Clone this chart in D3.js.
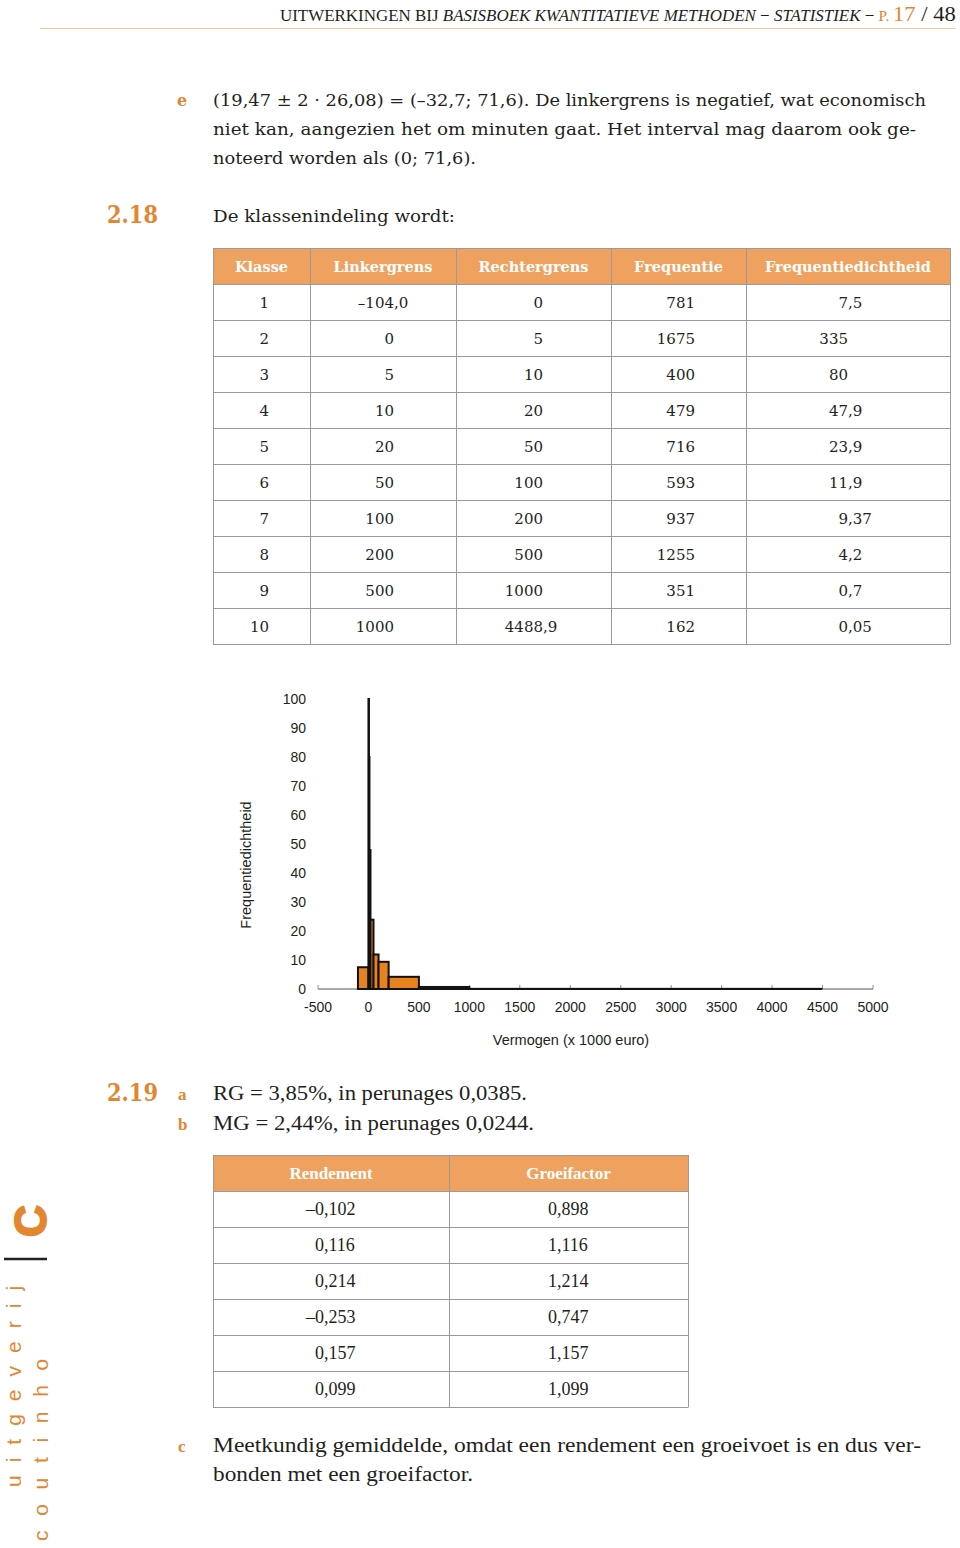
<!DOCTYPE html>
<html><head><meta charset="utf-8">
<script src="https://cdn.jsdelivr.net/npm/d3@7/dist/d3.min.js"></script>
<style>
html,body{margin:0;padding:0;background:#fff;}
svg{display:block;}
</style></head>
<body>
<script>
// ---------- DATA ----------
const klasse = ["1","2","3","4","5","6","7","8","9","10"];
const linkergrens = ["–104,0","0","5","10","20","50","100","200","500","1000"];
const rechtergrens = ["0","5","10","20","50","100","200","500","1000","4488,9"];
const frequentie = ["781","1675","400","479","716","593","937","1255","351","162"];
const dichtheidLabels = ["7,5","335","80","47,9","23,9","11,9","9,37","4,2","0,7","0,05"];
const tableHeaders = ["Klasse","Linkergrens","Rechtergrens","Frequentie","Frequentiedichtheid"];

const lowerBounds = [-104, 0, 5, 10, 20, 50, 100, 200, 500, 1000];
const upperBounds = [0, 5, 10, 20, 50, 100, 200, 500, 1000, 4488.9];
const density = [7.5, 335, 80, 47.9, 23.9, 11.9, 9.37, 4.2, 0.7, 0.05];
const xTicks = [-500,0,500,1000,1500,2000,2500,3000,3500,4000,4500,5000];
const yTicks = [0,10,20,30,40,50,60,70,80,90,100];

const rendement = ["–0,102","0,116","0,214","–0,253","0,157","0,099"];
const groeifactor = ["0,898","1,116","1,214","0,747","1,157","1,099"];
const table2Headers = ["Rendement","Groeifactor"];

// ---------- STYLE ----------
const ORANGE = "#e2862f";
const HEAD_FILL = "#efa25f";
const GRID = "#9a9a9a";
const TEXT = "#231f20";
const SERIF = "'DejaVu Serif', serif";
const SERIF2 = "'Liberation Serif', serif";
const SANS = "'Liberation Sans', Arial, sans-serif";

const svg = d3.select("body").append("svg").attr("width",960).attr("height",1548);

// ---------- PAGE HEADER ----------
const hdrG = svg.append("g");
const hdr = hdrG.append("text").attr("x",0).attr("y",0)
  .attr("font-family",SERIF2).attr("fill",TEXT).attr("font-size",16.5);
hdr.append("tspan").text("UITWERKINGEN BIJ ");
hdr.append("tspan").attr("font-style","italic").text("BASISBOEK KWANTITATIEVE METHODEN");
hdr.append("tspan").text(" − ");
hdr.append("tspan").attr("font-style","italic").text("STATISTIEK");
hdr.append("tspan").text(" − ");
hdr.append("tspan").attr("fill",ORANGE).attr("font-size",15).text("P. ");
hdr.append("tspan").attr("fill",ORANGE).attr("font-size",22).text("17");
hdr.append("tspan").attr("font-size",22).text(" / 48");
const hw = hdr.node().getComputedTextLength();
const hsx = 676 / hw;
hdrG.attr("transform",`translate(280,21) scale(${hsx},1)`);
svg.append("line").attr("x1",40).attr("x2",956).attr("y1",28.5).attr("y2",28.5)
  .attr("stroke","#f2c79c").attr("stroke-width",1.2);

// ---------- BODY TEXT ----------
function bodyLine(x,y,txt,len,opts={}){
  const t = svg.append("text").attr("x",x).attr("y",y)
    .attr("font-family",opts.family||SERIF).attr("font-size",opts.size||16.5)
    .attr("fill",opts.fill||TEXT).attr("font-weight",opts.weight||"normal").text(txt);
  if(len) t.attr("textLength",len).attr("lengthAdjust","spacingAndGlyphs");
  return t;
}
bodyLine(177,106,"e",null,{fill:ORANGE,weight:"bold",size:16});
bodyLine(213,106,"(19,47 ± 2 · 26,08) = (–32,7; 71,6). De linkergrens is negatief, wat economisch",713);
bodyLine(213,135,"niet kan, aangezien het om minuten gaat. Het interval mag daarom ook ge-",703);
bodyLine(213,164,"noteerd worden als (0; 71,6).",263);
bodyLine(107,223,"2.18",51,{fill:ORANGE,weight:"bold",size:25});
bodyLine(213,222,"De klassenindeling wordt:",242);

// ---------- TABLE HELPER ----------
function tabText(g, x, y, s, size, family){
  const parts = s.split(",");
  g.append("text").attr("x",x).attr("y",y).attr("text-anchor","end")
    .attr("font-family",family).attr("font-size",size).attr("fill",TEXT).text(parts[0]);
  if(parts.length>1){
    g.append("text").attr("x",x).attr("y",y).attr("text-anchor","start")
      .attr("font-family",family).attr("font-size",size).attr("fill",TEXT).text(","+parts[1]);
  }
}
function drawTable(cfg){
  const g = svg.append("g");
  const {cols, top, headH, rowH, headers, columns, tabs, size, family, headFamily, headSize} = cfg;
  const nRows = columns[0].length;
  const bottom = top + headH + rowH*nRows;
  g.append("rect").attr("x",cols[0]).attr("y",top).attr("width",cols[cols.length-1]-cols[0])
    .attr("height",headH).attr("fill",HEAD_FILL);
  headers.forEach((h,i)=>{
    g.append("text").attr("x",(cols[i]+cols[i+1])/2).attr("y",top+headH/2+5.5)
      .attr("text-anchor","middle").attr("font-family",headFamily).attr("font-weight","bold")
      .attr("font-size",headSize).attr("fill","#fff").text(h);
  });
  for(let r=0;r<=nRows;r++){
    const y = top+headH+rowH*r;
    g.append("line").attr("x1",cols[0]).attr("x2",cols[cols.length-1]).attr("y1",y+0.5).attr("y2",y+0.5)
      .attr("stroke",GRID).attr("stroke-width",1.2);
  }
  g.append("line").attr("x1",cols[0]).attr("x2",cols[cols.length-1]).attr("y1",top+0.5).attr("y2",top+0.5)
    .attr("stroke",GRID).attr("stroke-width",1);
  cols.forEach(c=>{
    g.append("line").attr("x1",c+0.5).attr("x2",c+0.5).attr("y1",top).attr("y2",bottom+0.5)
      .attr("stroke",GRID).attr("stroke-width",1);
  });
  columns.forEach((col,ci)=>{
    col.forEach((v,ri)=>{
      tabText(g, tabs[ci], top+headH+rowH*ri+rowH/2+6, v, size, family);
    });
  });
}

drawTable({cols:[213,310,456,611,746,950], top:248, headH:36, rowH:36, headers:tableHeaders,
  columns:[klasse,linkergrens,rechtergrens,frequentie,dichtheidLabels],
  tabs:[269,394,543,695,848], size:15, family:SERIF, headFamily:SERIF, headSize:14.5});

// ---------- HISTOGRAM ----------
const x = d3.scaleLinear().domain([-500,5000]).range([318,873]);
const y = d3.scaleLinear().domain([0,100]).range([989,699]);
const chart = svg.append("g");

chart.append("line").attr("x1",x(-500)).attr("x2",x(5000)).attr("y1",y(0)).attr("y2",y(0))
  .attr("stroke","#8c8c8c").attr("stroke-width",1.3);
chart.selectAll(".xt").data(xTicks).enter().append("line")
  .attr("x1",d=>x(d)).attr("x2",d=>x(d)).attr("y1",y(0)).attr("y2",y(0)-4)
  .attr("stroke","#8c8c8c").attr("stroke-width",1);
chart.selectAll(".xl").data(xTicks).enter().append("text")
  .attr("x",d=>x(d)).attr("y",y(0)+23).attr("text-anchor","middle")
  .attr("font-family",SANS).attr("font-size",14).attr("fill",TEXT).text(d=>d);
chart.selectAll(".yl").data(yTicks).enter().append("text")
  .attr("x",306).attr("y",d=>y(d)+5).attr("text-anchor","end")
  .attr("font-family",SANS).attr("font-size",14).attr("fill",TEXT).text(d=>d);

const bars = lowerBounds.map((l,i)=>({l, r:upperBounds[i], d:density[i]}));
chart.selectAll(".bar").data(bars).enter().append("rect")
  .attr("x",d=>x(d.l)).attr("width",d=>x(d.r)-x(d.l))
  .attr("y",d=>y(Math.min(d.d,100))).attr("height",d=>y(0)-y(Math.min(d.d,100)))
  .attr("fill","#e8821f").attr("stroke","#111").attr("stroke-width",2);

chart.append("text").attr("transform",`translate(251,${865}) rotate(-90)`).attr("text-anchor","middle")
  .attr("font-family",SANS).attr("font-size",14.5).attr("fill",TEXT).text("Frequentiedichtheid");
chart.append("text").attr("x",571).attr("y",1045).attr("text-anchor","middle")
  .attr("font-family",SANS).attr("font-size",14.5).attr("fill",TEXT).text("Vermogen (x 1000 euro)");

// ---------- 2.19 ----------
bodyLine(107,1101,"2.19",51,{fill:ORANGE,weight:"bold",size:25});
bodyLine(178,1100,"a",null,{fill:ORANGE,weight:"bold",size:17,family:SERIF2});
bodyLine(213,1100,"RG = 3,85%, in perunages 0,0385.",314,{family:SERIF2,size:20});
bodyLine(178,1130,"b",null,{fill:ORANGE,weight:"bold",size:17,family:SERIF2});
bodyLine(213,1130,"MG = 2,44%, in perunages 0,0244.",321,{family:SERIF2,size:20});

drawTable({cols:[213,449,688], top:1155, headH:36, rowH:36, headers:table2Headers,
  columns:[rendement,groeifactor], tabs:[324,557], size:18, family:SERIF2, headFamily:SERIF2, headSize:17});

bodyLine(178,1452,"c",null,{fill:ORANGE,weight:"bold",size:17,family:SERIF2});
bodyLine(213,1452,"Meetkundig gemiddelde, omdat een rendement een groeivoet is en dus ver-",708,{family:SERIF2,size:20});
bodyLine(213,1481,"bonden met een groeifactor.",260,{family:SERIF2,size:20});

// ---------- SIDE LOGO ----------
const logo = svg.append("g");
logo.append("text").attr("transform","translate(46,1221) rotate(-90)").attr("text-anchor","middle")
  .attr("font-family",SANS).attr("font-weight","bold").attr("font-size",44).attr("fill",ORANGE)
  .attr("stroke",ORANGE).attr("stroke-width",2).text("C");
logo.append("line").attr("x1",4).attr("x2",47).attr("y1",1259).attr("y2",1259).attr("stroke","#222").attr("stroke-width",2.5);
logo.append("text").attr("transform","translate(21,1487) rotate(-90)")
  .attr("font-family",SANS).attr("font-size",21).attr("fill",ORANGE).attr("letter-spacing",13).text("uitgeverij");
logo.append("text").attr("transform","translate(48,1541) rotate(-90)")
  .attr("font-family",SANS).attr("font-size",21).attr("fill",ORANGE).attr("letter-spacing",14.7).text("coutinho");
</script>
</body></html>
